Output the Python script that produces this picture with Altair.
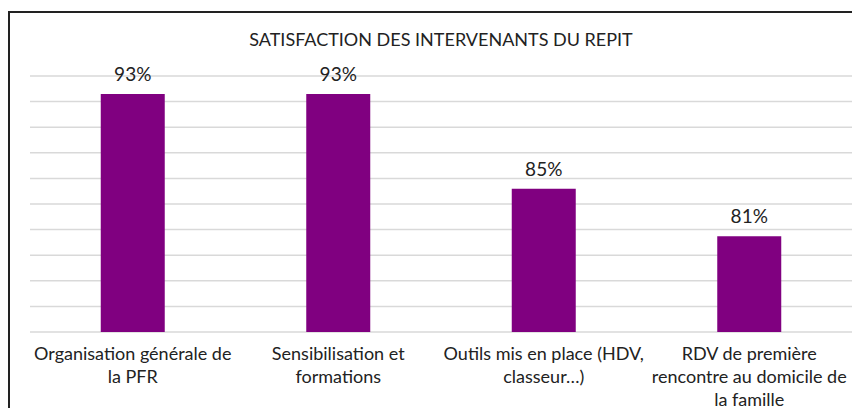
import altair as alt
import pandas as pd

categories = [
    "Organisation générale de|la PFR",
    "Sensibilisation et|formations",
    "Outils mis en place (HDV,|classeur…)",
    "RDV de première|rencontre au domicile de|la famille",
]
values = [0.9259, 0.9259, 0.8519, 0.8148]
grid_ticks = [0.74, 0.76, 0.78, 0.80, 0.82, 0.84, 0.86, 0.88, 0.90, 0.92, 0.94]

df = pd.DataFrame({"cat": categories, "val": values})
gdf = pd.DataFrame({"g": grid_ticks})

FONT = "Lato"
TXT = "#222222"

yscale = alt.Scale(domain=[0.74, 0.94], nice=False, zero=False, clamp=True)

x_enc = alt.X(
    "cat:N",
    sort=categories,
    title=None,
    scale=alt.Scale(paddingInner=0, paddingOuter=0),
    axis=alt.Axis(
        labelExpr="split(datum.label, '|')",
        labelAngle=0,
        labelFont=FONT,
        labelFontSize=18,
        labelColor=TXT,
        labelLineHeight=23,
        labelBaseline="top",
        labelPadding=13,
        labelLimit=300,
        ticks=False,
        domain=False,
        grid=False,
    ),
)
y_enc = alt.Y("val:Q", title=None, scale=yscale, axis=None)

grid = alt.Chart(gdf).mark_rule(color="#d9d9d9", strokeWidth=1.5).encode(
    y=alt.Y("g:Q", scale=yscale, axis=None)
)

base = alt.Chart(df)

bars = base.mark_bar(color="#800080", width=64).encode(x=x_enc, y=y_enc)

labels = base.mark_text(
    font=FONT, fontSize=19, color=TXT, baseline="bottom", dy=-9
).encode(
    x=alt.X("cat:N", sort=categories),
    y=alt.Y("val:Q"),
    text=alt.Text("val:Q", format=".0%"),
)

border = alt.Chart(pd.DataFrame({"a": [0]})).mark_rect(
    fill=None, stroke="#222222", strokeWidth=2
).encode(
    x=alt.value(-21), x2=alt.value(900), y=alt.value(-64), y2=alt.value(600)
)

chart = (
    alt.layer(border, grid, bars, labels)
    .properties(
        width=822,
        height=256,
        title=alt.TitleParams(
            "SATISFACTION DES INTERVENANTS DU REPIT",
            font=FONT,
            fontSize=18,
            fontWeight="normal",
            color=TXT,
            anchor="middle",
            offset=16,
            dy=55,
        ),
        autosize=alt.AutoSizeParams(type="none"),
        padding={"left": 22, "top": 68, "right": 0, "bottom": 76},
    )
    .configure_view(stroke=None)
)

chart.save("out.html", embed_options={"renderer": "svg", "actions": False})
